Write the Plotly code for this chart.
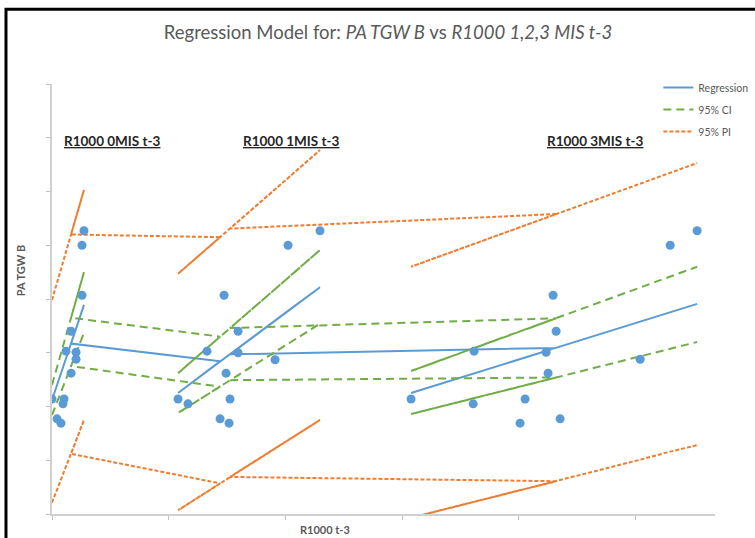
import plotly.graph_objects as go

# ---- data (three groups: R1000 0MIS t-3, 1MIS t-3, 3MIS t-3), rows in sheet order ----
x_r1000 = [0.000, 0.043, 0.077, 0.094, 0.103, 0.120, 0.206, 0.206, 0.257, 0.257, 0.274, 0.163, 0.163,
           1.440, 1.080, 1.165, 1.328, 1.474, 1.594, 1.594, 1.491, 1.517, 1.911, 2.022, 2.296, 1.525,
           4.319, 3.076, 3.608, 3.616, 4.293, 4.233, 4.250, 4.053, 4.010, 4.353, 5.039, 5.296, 5.527]
pa_tgw_b = [2.14, 1.77, 1.69, 2.05, 2.14, 3.03, 3.01, 2.88, 4.07, 5.00, 5.27, 3.40, 2.62,
            1.77, 2.14, 2.05, 3.03, 4.07, 3.40, 3.00, 2.62, 1.69, 2.87, 5.00, 5.27, 2.14,
            3.40, 2.14, 2.05, 3.03, 4.07, 3.01, 2.62, 2.14, 1.69, 1.77, 2.88, 5.00, 5.27]
regression = [2.12, 2.40, 2.62, 2.73, 2.78, 2.89, 3.45, 3.45, 3.78, 3.78, 3.89, 3.17, 3.17,
              2.84, 2.25, 2.39, 2.65, 2.89, 3.08, 3.08, 2.92, 2.96, 3.60, 3.78, 4.22, 2.97,
              3.09, 2.25, 2.61, 2.62, 3.07, 3.03, 3.04, 2.91, 2.88, 3.11, 3.58, 3.75, 3.91]
ci_upper = [2.40, 2.73, 2.99, 3.12, 3.19, 3.32, 3.98, 3.98, 4.37, 4.37, 4.50, 3.65, 3.65,
            3.30, 2.62, 2.78, 3.09, 3.37, 3.59, 3.59, 3.40, 3.44, 4.19, 4.40, 4.91, 3.46,
            3.64, 2.66, 3.08, 3.09, 3.62, 3.57, 3.59, 3.43, 3.40, 3.67, 4.21, 4.41, 4.60]
ci_lower = [1.84, 2.08, 2.27, 2.37, 2.41, 2.51, 2.99, 2.99, 3.27, 3.27, 3.37, 2.75, 2.75,
            2.37, 1.88, 2.00, 2.22, 2.42, 2.58, 2.58, 2.44, 2.47, 3.01, 3.16, 3.54, 2.49,
            2.54, 1.86, 2.15, 2.16, 2.53, 2.49, 2.50, 2.39, 2.37, 2.56, 2.93, 3.07, 3.20]
pi_upper = [3.98, 4.30, 4.56, 4.69, 4.75, 4.88, 5.52, 5.52, 5.90, 5.90, 6.03, 5.20, 5.20,
            5.15, 4.47, 4.63, 4.94, 5.21, 5.44, 5.44, 5.25, 5.29, 6.04, 6.25, 6.77, 5.31,
            5.58, 4.60, 5.02, 5.02, 5.56, 5.51, 5.52, 5.37, 5.33, 5.60, 6.14, 6.35, 6.53]
pi_lower = [0.21, 0.45, 0.64, 0.74, 0.78, 0.88, 1.36, 1.36, 1.65, 1.65, 1.75, 1.12, 1.12,
            0.57, 0.07, 0.19, 0.42, 0.62, 0.78, 0.78, 0.64, 0.68, 1.22, 1.37, 1.75, 0.69,
            0.61, -0.07, 0.22, 0.23, 0.60, 0.57, 0.58, 0.47, 0.44, 0.63, 1.01, 1.16, 1.28]
group_labels = ["R1000 0MIS t-3", "R1000 1MIS t-3", "R1000 3MIS t-3"]
group_label_x = [0.514, 2.048, 4.653]
group_label_y = 6.94

BLUE = "#5B9BD5"
GREEN = "#70AD47"
ORANGE = "#ED7D31"
TXT = "#595959"
FONT = "Lato"

fig = go.Figure()

fig.add_trace(go.Scatter(x=x_r1000, y=regression, mode="lines", name="Regression",
                         line=dict(color=BLUE, width=2), legendgroup="reg"))
fig.add_trace(go.Scatter(x=x_r1000, y=ci_upper, mode="lines", name="95% CI",
                         line=dict(color=GREEN, width=2, dash="8px,5px"), legendgroup="ci"))
fig.add_trace(go.Scatter(x=x_r1000, y=ci_lower, mode="lines", name="95% CI",
                         line=dict(color=GREEN, width=2, dash="8px,5px"), legendgroup="ci",
                         showlegend=False))
fig.add_trace(go.Scatter(x=x_r1000, y=pi_upper, mode="lines", name="95% PI",
                         line=dict(color=ORANGE, width=2, dash="4px,2px"), legendgroup="pi"))
fig.add_trace(go.Scatter(x=x_r1000, y=pi_lower, mode="lines", name="95% PI",
                         line=dict(color=ORANGE, width=2, dash="4px,2px"), legendgroup="pi",
                         showlegend=False))
fig.add_trace(go.Scatter(x=x_r1000, y=pa_tgw_b, mode="markers", name="PA TGW B",
                         marker=dict(color=BLUE, size=9), showlegend=False))

annotations = []
for lab, gx in zip(group_labels, group_label_x):
    annotations.append(dict(x=gx, y=group_label_y, xref="x", yref="y", text="<u><b>" + lab + "</b></u>",
                            xanchor="center", yanchor="middle",
                            showarrow=False, font=dict(family=FONT, size=13.5, color="#262626")))
annotations.append(dict(x=-0.048, y=0.567, xref="paper", yref="paper", text="<b>PA TGW B</b>",
                        xanchor="center", yanchor="middle",
                        textangle=-90, showarrow=False, font=dict(family=FONT, size=11, color=TXT)))
annotations.append(dict(x=0.412, y=-0.037, xref="paper", yref="paper", text="<b>R1000 t-3</b>",
                        xanchor="center", yanchor="middle",
                        showarrow=False, font=dict(family=FONT, size=11, color=TXT)))

fig.update_layout(
    width=755, height=538, autosize=False,
    margin=dict(l=52, r=40, t=84, b=24, autoexpand=False),
    paper_bgcolor="white", plot_bgcolor="white",
    title=dict(text="Regression Model for: <i>PA TGW B</i> vs <i>R1000 1,2,3 MIS t-3</i>",
               x=0.514, xref="container", xanchor="center",
               y=1 - 33 / 538, yref="container", yanchor="middle",
               font=dict(family=FONT, size=18.5, color=TXT)),
    xaxis=dict(range=[0, 5.68], dtick=1, tick0=0, showgrid=False, zeroline=False,
               showline=True, linecolor="#D0D0D0", linewidth=1.5,
               ticks="outside", ticklen=4, tickcolor="#BFBFBF", showticklabels=False),
    yaxis=dict(range=[0, 8], dtick=1, tick0=0, showgrid=False, zeroline=False,
               showline=True, linecolor="#D0D0D0", linewidth=1.5,
               ticks="outside", ticklen=4, tickcolor="#BFBFBF", showticklabels=False),
    legend=dict(xref="container", yref="container", x=0.872, y=1 - 73 / 538,
                xanchor="left", yanchor="top", bgcolor="rgba(0,0,0,0)",
                font=dict(family=FONT, size=10.5, color=TXT), tracegroupgap=3, itemwidth=30),
    annotations=annotations,
    shapes=[dict(type="rect", xref="paper", yref="paper", x0=-0.0694, x1=1.3, y0=-0.2, y1=1.174,
                 line=dict(color="black", width=3), layer="above")],
    showlegend=True,
)

fig.write_html("out.html", config={"displayModeBar": False},
               post_script="document.body.style.margin='0';document.body.style.overflow='hidden';")
